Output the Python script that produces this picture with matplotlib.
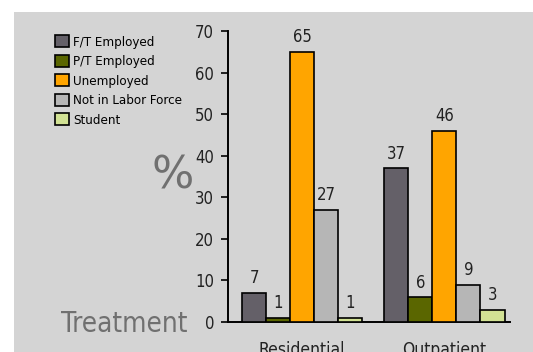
import matplotlib.pyplot as plt
import matplotlib.patches as patches
import numpy as np

groups = ['Residential', 'Outpatient']
statuses = ['F/T Employed', 'P/T Employed', 'Unemployed', 'Not in Labor Force', 'Student']
ft_employed = [7, 37]
pt_employed = [1, 6]
unemployed = [65, 46]
not_in_lf = [27, 9]
student = [1, 3]
colors = ['#646068', '#5a6600', '#ffa500', '#b6b6b6', '#d2e294']

series = [ft_employed, pt_employed, unemployed, not_in_lf, student]

bg = '#d4d4d4'
cond = dict(family='DejaVu Sans', stretch='condensed')

fig = plt.figure(figsize=(5.33, 3.52), dpi=100)
fig.patch.set_facecolor('white')
# grey panel behind everything, leaving a thin white margin top/left
fig.patches.append(patches.Rectangle((14 / 533, 0), 1, 1 - 12 / 352,
                                     transform=fig.transFigure, facecolor=bg,
                                     edgecolor='none', zorder=-5))

ax = fig.add_axes([228 / 533, 30 / 352, 282 / 533, 291 / 352])
ax.set_facecolor('none')

x = np.arange(len(groups))
w = 0.169
for i, (vals, c, name) in enumerate(zip(series, colors, statuses)):
    pos = x + (i - 2) * w
    bars = ax.bar(pos, vals, width=w, color=c, edgecolor='black', linewidth=1.2,
                  label=name, zorder=3)
    for b, v in zip(bars, vals):
        ax.text(b.get_x() + b.get_width() / 2, v + 1.3, str(v), ha='center',
                va='bottom', fontsize=12, color='#222222', **cond)

ax.set_xlim(-0.521, 1.461)
ax.set_ylim(0, 70)
ax.set_yticks(range(0, 71, 10))
ax.set_yticklabels([str(t) for t in range(0, 71, 10)], fontsize=12,
                   color='#222222', **cond)
ax.set_xticks(x)
ax.set_xticklabels(groups, fontsize=12.5, color='#222222', **cond)
ax.tick_params(axis='x', length=0, pad=14)
ax.tick_params(axis='y', length=5, width=1.2, direction='out', pad=5)
for s in ['top', 'right']:
    ax.spines[s].set_visible(False)
for s in ['left', 'bottom']:
    ax.spines[s].set_linewidth(1.4)

leg = fig.legend(loc='upper left', bbox_to_anchor=(55 / 533, 1 - 35 / 352),
                 frameon=False,
                 prop={'family': 'DejaVu Sans', 'stretch': 'condensed', 'size': 9.5},
                 handlelength=1.05, handleheight=1.05, handletextpad=0.35,
                 labelspacing=0.45, borderaxespad=0, borderpad=0)

fig.text(173 / 533, 1 - 176 / 352, '%', fontsize=32, color='#707070',
         ha='center', va='center')
fig.text(124 / 533, 1 - 324 / 352, 'Treatment', fontsize=20, color='#707070',
         ha='center', va='center', **cond)

fig.savefig('out.png', dpi=100, facecolor=fig.get_facecolor())
